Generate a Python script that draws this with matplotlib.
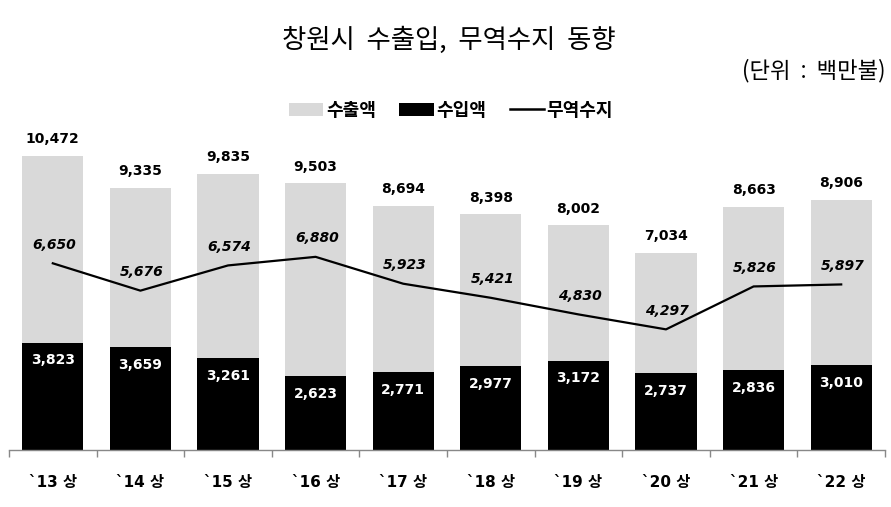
import matplotlib
matplotlib.use("Agg")
import matplotlib.pyplot as plt
from matplotlib.patches import Patch
from matplotlib.lines import Line2D
import numpy as np

plt.rcParams['font.family'] = ['DejaVu Sans', 'Noto Sans CJK KR']

categories = ["`13 상", "`14 상", "`15 상", "`16 상", "`17 상",
              "`18 상", "`19 상", "`20 상", "`21 상", "`22 상"]
exports = [10472, 9335, 9835, 9503, 8694, 8398, 8002, 7034, 8663, 8906]
imports = [3823, 3659, 3261, 2623, 2771, 2977, 3172, 2737, 2836, 3010]
balance = [6650, 5676, 6574, 6880, 5923, 5421, 4830, 4297, 5826, 5897]

W, H = 891, 507
fig = plt.figure(figsize=(W / 100, H / 100), dpi=100)
ymax = 12000
top_px = 450 - ymax * (294 / 10472)
ax = fig.add_axes([9 / W, (H - 450) / H, (885 - 9) / W, (450 - top_px) / H])

x = np.arange(len(categories))
ax.bar(x, exports, width=0.7, color='#d9d9d9', zorder=1)
ax.bar(x, imports, width=0.7, color='black', zorder=2)
ax.plot(x, balance, color='black', lw=1.6, zorder=3)

for xi, v in zip(x, exports):
    ax.annotate(f"{v:,}", (xi, v), xytext=(0, 12), textcoords='offset points',
                ha='center', va='center', fontsize=10, fontweight='bold', color='black')
for xi, v in zip(x, imports):
    ax.annotate(f"{v:,}", (xi, v), xytext=(0, -12.5), textcoords='offset points',
                ha='center', va='center', fontsize=10, fontweight='bold', color='white')
for xi, v in zip(x, balance):
    ax.annotate(f"{v:,}", (xi, v), xytext=(1, 13.5), textcoords='offset points',
                ha='center', va='center', fontsize=10, fontweight='bold',
                fontstyle='italic', color='black')

ax.set_xlim(-0.5, len(categories) - 0.5)
ax.set_ylim(0, ymax)
ax.set_yticks([])
for s in ['top', 'right', 'left']:
    ax.spines[s].set_visible(False)
ax.spines['bottom'].set_color('#888888')
ax.spines['bottom'].set_linewidth(1)
ax.set_xticks(x)
ax.set_xticklabels(categories, fontsize=11, fontweight='bold',
                   family=['DejaVu Sans', 'Noto Sans CJK KR'])
ax.tick_params(axis='x', which='major', length=0, pad=18)
ax.set_xticks(np.arange(-0.5, len(categories)), minor=True)
ax.tick_params(axis='x', which='minor', length=5, color='#888888', width=1)

fig.text(449 / W, 1 - 40 / H, "창원시  수출입,  무역수지  동향", ha='center', va='center',
         fontsize=19, family=['Noto Sans CJK KR'])
fig.text(885 / W, 1 - 71 / H, "(단위  :  백만불)", ha='right', va='center',
         fontsize=16, family=['Noto Sans CJK KR'])

handles = [Patch(facecolor='#d9d9d9', edgecolor='none'),
           Patch(facecolor='black', edgecolor='none'),
           Line2D([0], [0], color='black', lw=1.8)]
labels = ["수출액", "수입액", "무역수지"]
fig.legend(handles, labels, loc='center', bbox_to_anchor=(451 / W, 1 - 110 / H),
           ncol=3, frameon=False, handlelength=1.9, handleheight=0.7,
           handletextpad=0.15, columnspacing=1.3,
           prop={'family': ['Noto Sans CJK KR'], 'size': 13, 'weight': 'bold'})

fig.savefig("out.png", dpi=100)
